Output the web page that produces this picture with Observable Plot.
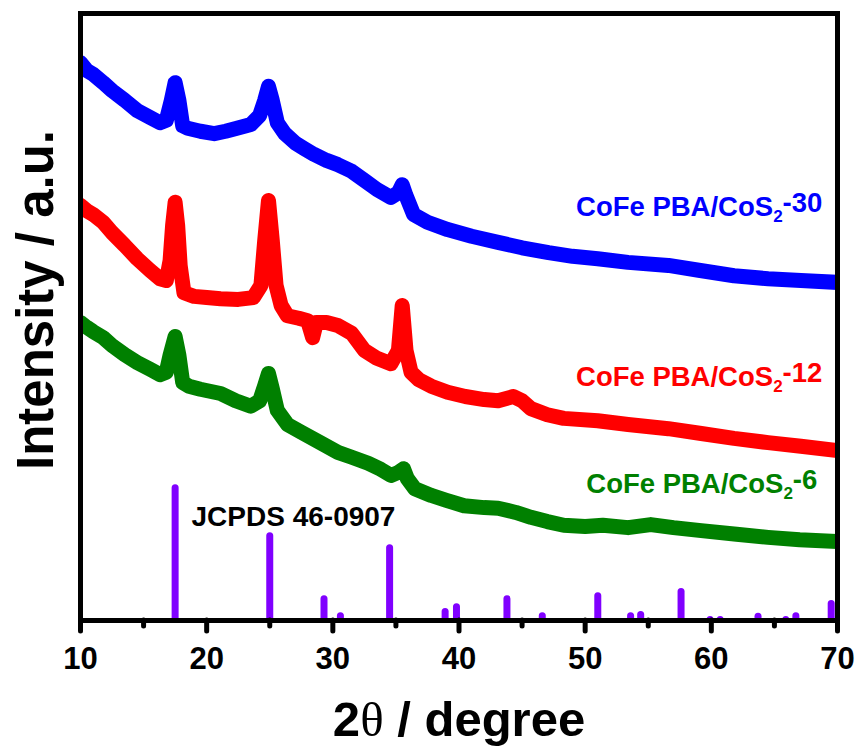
<!DOCTYPE html>
<html>
<head>
<meta charset="utf-8">
<script src="https://cdn.jsdelivr.net/npm/d3@7"></script>
<script src="https://cdn.jsdelivr.net/npm/@observablehq/plot@0.6"></script>
<style>
  html, body { margin: 0; padding: 0; background: #fff; }
</style>
</head>
<body>
<div id="chart"></div>
<script>
// XRD patterns: [2θ (degree), intensity (a.u.)]
const cos2_30 = [
  [10.0, 91.9], [10.5, 90.6], [11.0, 90.0], [11.8, 88.6], [12.5, 87.3], [13.5, 85.7],
  [14.5, 84.0], [15.5, 82.9], [16.3, 82.0], [16.8, 82.4], [17.2, 85.7], [17.5, 88.6],
  [17.8, 85.7], [18.1, 81.5], [18.5, 81.1], [19.5, 80.6], [20.6, 80.2], [21.5, 80.6],
  [22.4, 81.1], [23.5, 81.7], [24.2, 83.2], [24.6, 85.7], [24.9, 88.0], [25.2, 85.7],
  [25.6, 82.0], [26.2, 80.2], [27.0, 78.7], [27.7, 77.8], [28.5, 76.8], [29.5, 75.8],
  [30.4, 75.1], [31.5, 74.0], [32.5, 72.5], [33.5, 71.0], [34.6, 69.7], [35.2, 70.5],
  [35.5, 71.8], [35.8, 70.0], [36.4, 66.9], [37.5, 65.6], [39.1, 64.4], [41.0, 63.3],
  [43.1, 62.3], [45.0, 61.4], [47.1, 60.6], [49.0, 60.0], [51.0, 59.6], [53.4, 59.0],
  [56.6, 58.5], [59.0, 57.7], [61.8, 56.8], [64.5, 56.3], [67.1, 56.0], [70.0, 55.7]
];

const cos2_12 = [
  [10.0, 68.4], [10.5, 67.5], [11.0, 66.9], [11.8, 65.6], [12.5, 63.9], [13.5, 61.8],
  [14.5, 59.6], [15.5, 57.7], [16.3, 56.3], [16.8, 56.0], [17.1, 59.3], [17.3, 65.1],
  [17.5, 68.9], [17.7, 65.1], [17.9, 58.5], [18.2, 54.0], [19.0, 53.4], [20.0, 53.2],
  [21.1, 53.0], [22.5, 52.9], [23.7, 53.2], [24.3, 55.2], [24.6, 62.6], [24.9, 69.2],
  [25.2, 62.6], [25.5, 55.2], [25.9, 51.9], [26.4, 50.2], [27.3, 49.8], [28.0, 49.4],
  [28.4, 46.6], [28.7, 49.1], [29.5, 49.1], [30.4, 48.6], [31.5, 47.3], [32.5, 44.5],
  [33.5, 43.2], [34.6, 42.3], [35.2, 44.5], [35.5, 51.9], [35.8, 44.5], [36.2, 40.9],
  [36.8, 39.7], [37.8, 38.6], [39.1, 37.6], [40.5, 36.9], [42.0, 36.4], [43.1, 36.2],
  [44.3, 36.9], [45.0, 36.2], [45.7, 34.9], [47.0, 33.9], [48.3, 33.3], [51.0, 32.9],
  [53.4, 32.3], [56.6, 31.6], [59.2, 30.8], [61.8, 30.0], [64.5, 29.3], [67.1, 28.7],
  [70.0, 28.0]
];

const cos2_6 = [
  [10.0, 49.1], [10.5, 48.3], [11.0, 47.6], [11.8, 46.6], [12.5, 45.3], [13.5, 43.8],
  [14.5, 42.5], [15.5, 41.4], [16.3, 40.5], [16.8, 40.9], [17.1, 43.7], [17.5, 46.8],
  [17.8, 43.7], [18.1, 39.2], [18.6, 38.6], [19.5, 38.1], [21.1, 37.4], [22.3, 36.2],
  [23.5, 35.3], [24.2, 36.2], [24.6, 38.7], [24.9, 40.7], [25.2, 38.2], [25.6, 34.6],
  [26.4, 32.3], [27.5, 31.0], [29.0, 29.3], [30.4, 27.7], [31.5, 26.9], [32.8, 25.9],
  [33.8, 24.9], [34.6, 23.9], [35.2, 24.4], [35.6, 25.0], [35.9, 23.4], [36.5, 21.7],
  [37.8, 20.6], [39.0, 19.8], [40.4, 18.9], [42.0, 18.6], [43.1, 18.5], [44.5, 17.8],
  [45.7, 17.0], [47.0, 16.3], [48.3, 15.7], [50.0, 15.5], [51.4, 15.7], [53.4, 15.3],
  [55.2, 15.8], [57.0, 15.3], [59.2, 14.8], [62.0, 14.2], [64.5, 13.7], [67.0, 13.3],
  [70.0, 13.0]
];

// Reference pattern JCPDS 46-0907
const refTheta     = [17.5, 25.0, 29.3, 30.6, 34.5, 38.9, 39.8, 43.8, 46.6, 51.0, 53.6, 54.4, 57.6, 59.9, 60.7, 63.7, 65.9, 66.7, 69.5];
const refIntensity = [21.8, 13.9, 3.5, 0.7, 11.9, 1.4, 2.2, 3.5, 0.7, 4.0, 0.7, 0.9, 4.7, 0.1, 0.1, 0.6, 0.1, 0.7, 2.7];

const seriesNames = ["CoFe PBA/CoS₂-30", "CoFe PBA/CoS₂-12", "CoFe PBA/CoS₂-6"];
const referenceName = "JCPDS 46-0907";
const majorTicks = [10, 20, 30, 40, 50, 60, 70];
const minorTicks = [15, 25, 35, 45, 55, 65];

const patterns = [cos2_30, cos2_12, cos2_6].flatMap((pts, i) =>
  pts.map(([theta, intensity]) => ({theta, intensity, sample: seriesNames[i]}))
);
const sticks = refTheta.map((theta, i) => ({theta, intensity: refIntensity[i]}));

const colors = ["#0000ff", "#ff0000", "#008000"];
const bold = {fontWeight: "bold", fontFamily: "Liberation Sans, Arial, sans-serif"};

const chart = Plot.plot({
  width: 860,
  height: 749,
  marginLeft: 80,
  marginRight: 23,
  marginTop: 13,
  marginBottom: 129,
  style: {fontFamily: "Liberation Sans, Arial, sans-serif", background: "#fff", color: "#000"},
  x: {domain: [10, 70], label: null},
  y: {domain: [0, 100], axis: null},
  color: {domain: seriesNames, range: colors},
  marks: [
    Plot.ruleX(sticks, {x: "theta", y1: 0, y2: "intensity", stroke: "#8000ff", strokeWidth: 7, strokeLinecap: "round", clip: true}),
    Plot.line(patterns, {x: "theta", y: "intensity", z: "sample", stroke: "sample", strokeWidth: 15, strokeLinejoin: "round", strokeLinecap: "round", clip: true}),
    Plot.frame({stroke: "#000", strokeWidth: 5}),
    Plot.axisX(minorTicks, {anchor: "bottom", tickSize: 6, strokeWidth: 5, strokeLinecap: "round", fill: "none", label: null}),
    Plot.axisX(majorTicks, {anchor: "bottom", tickSize: 11, tickPadding: 15, strokeWidth: 5, strokeLinecap: "round", fontSize: 31, ...bold, fill: "#000", label: null}),
    // sample labels
    Plot.text([seriesNames[0]], {x: 68.8, y: 68.1, text: d => d, fill: colors[0], textAnchor: "end", fontSize: 27.5, ...bold}),
    Plot.text([seriesNames[1]], {x: 68.8, y: 40.1, text: d => d, fill: colors[1], textAnchor: "end", fontSize: 27.5, ...bold}),
    Plot.text([seriesNames[2]], {x: 68.4, y: 22.5, text: d => d, fill: colors[2], textAnchor: "end", fontSize: 27.5, ...bold}),
    Plot.text([referenceName], {x: 18.8, y: 17.1, text: d => d, fill: "#000", textAnchor: "start", fontSize: 28, ...bold}),
    // axis titles
    Plot.text(["2θ / degree"], {frameAnchor: "bottom", dy: 115, lineAnchor: "bottom", textAnchor: "middle", text: d => d, fill: "#000", fontSize: 49, ...bold}),
    Plot.text(["Intensity / a.u."], {frameAnchor: "left", dx: -28, dy: -17, rotate: -90, lineAnchor: "bottom", textAnchor: "middle", text: d => d, fill: "#000", fontSize: 51, ...bold})
  ]
});

// subscript digits and the serif theta
d3.select(chart).selectAll("text").each(function() {
  const el = d3.select(this);
  if (this.querySelector("tspan")) return;
  const t = this.textContent;
  if (t.includes("₂")) {
    const [a, b] = t.split("₂");
    el.text(null);
    el.append("tspan").text(a);
    el.append("tspan").attr("font-size", "0.62em").attr("dy", "0.38em").text("2");
    el.append("tspan").attr("dy", "-0.38em").text(b);
  } else if (t.includes("θ")) {
    const [a, b] = t.split("θ");
    el.text(null);
    el.append("tspan").text(a);
    el.append("tspan").attr("font-family", "Liberation Serif, Times New Roman, serif").attr("font-weight", "normal").text("θ");
    el.append("tspan").text(b);
  }
});

document.getElementById("chart").append(chart);
</script>
</body>
</html>
